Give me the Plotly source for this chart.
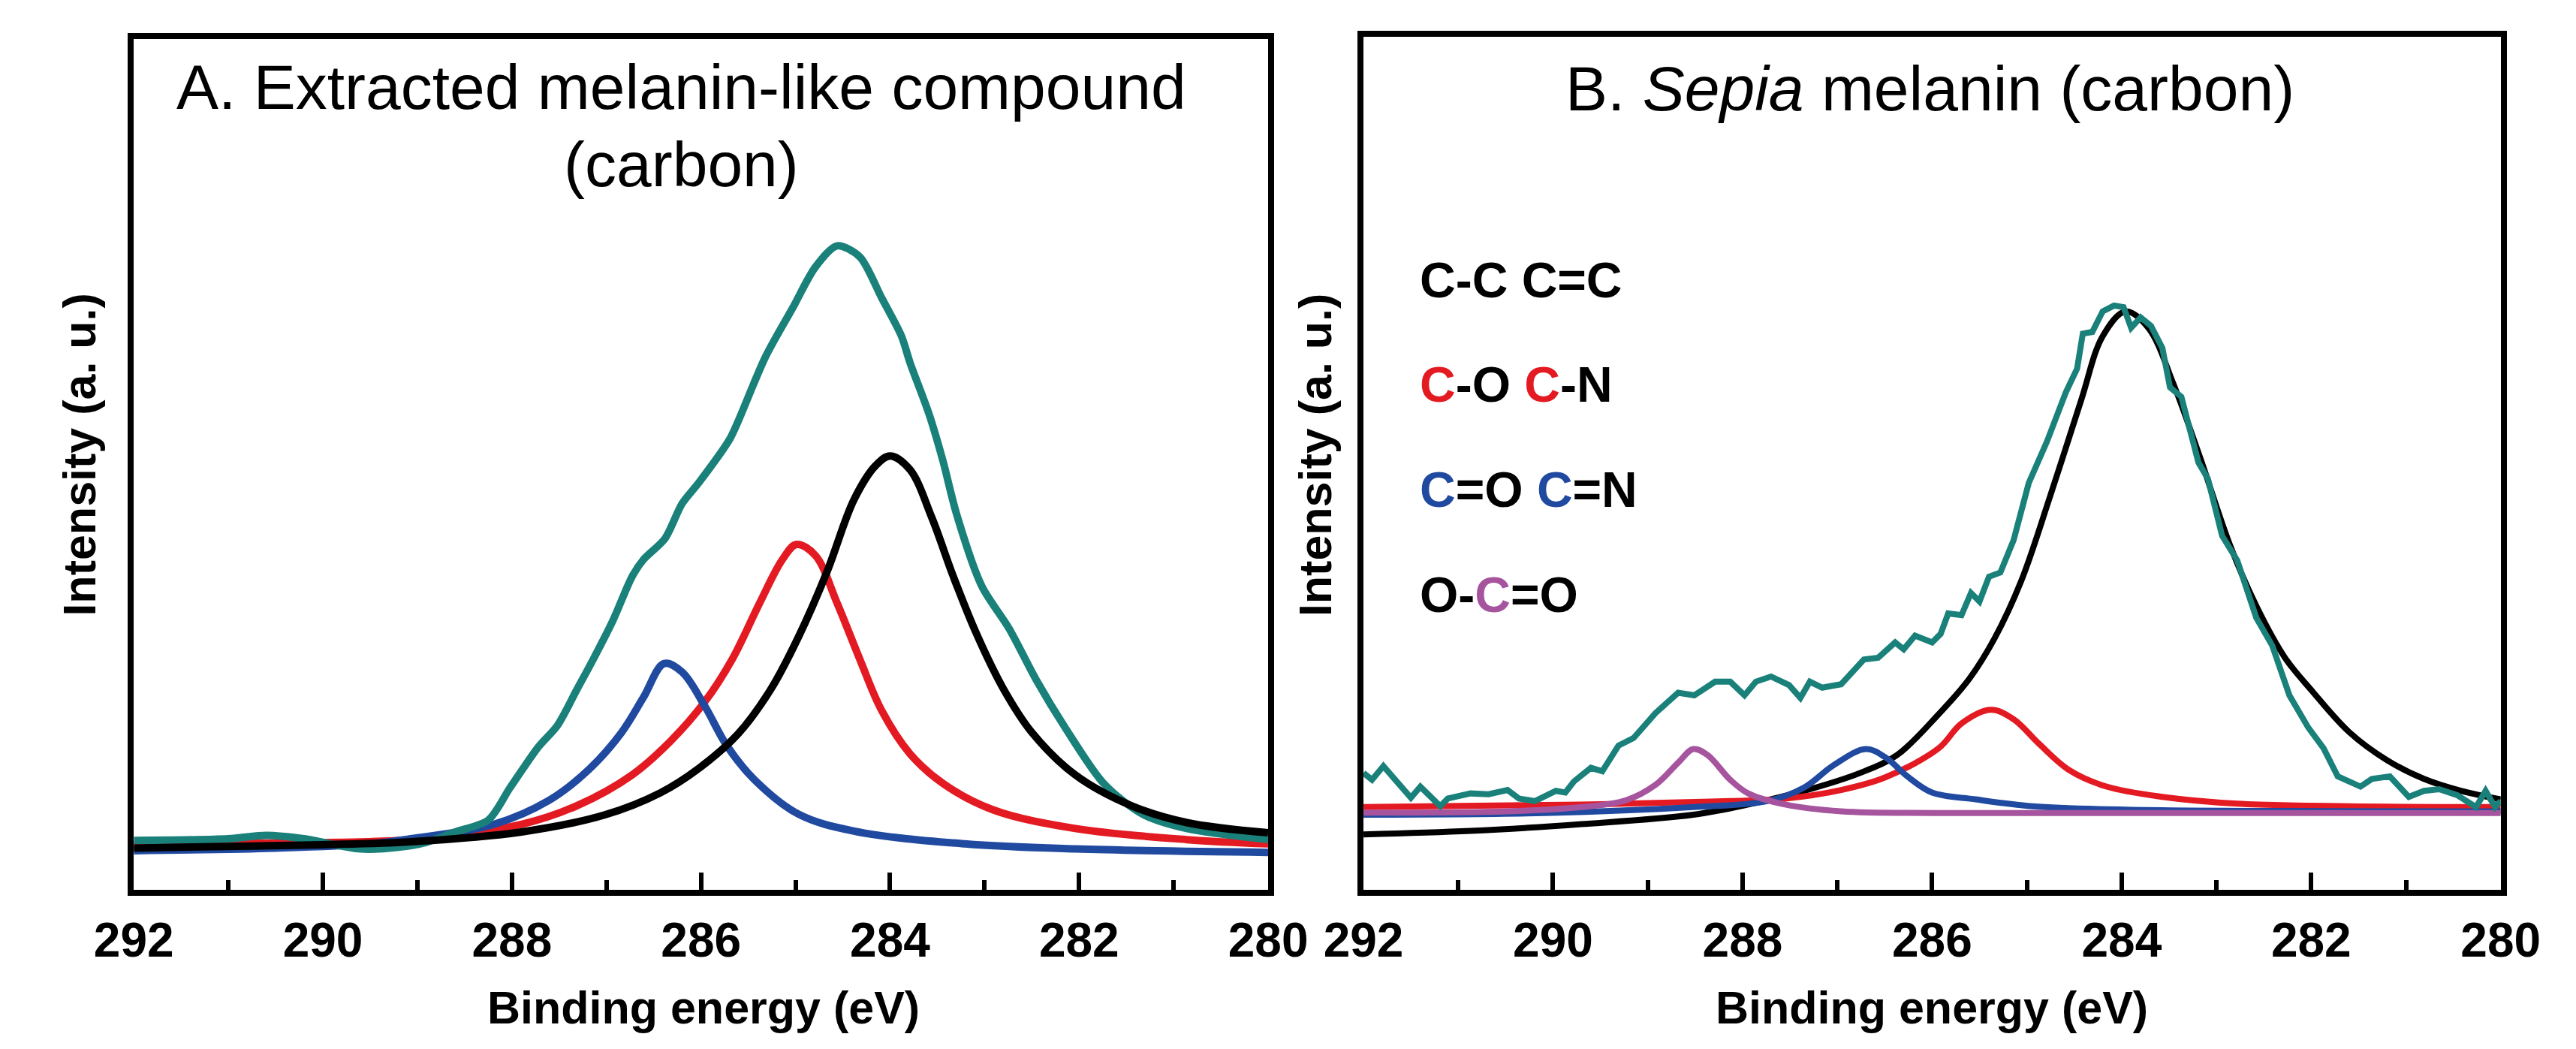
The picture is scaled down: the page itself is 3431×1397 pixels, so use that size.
import plotly.graph_objects as go

W, H = 3431, 1397

# ---- panel A: extracted melanin-like compound (energy in eV, intensity in % of frame height)
a_total_e = [292.0, 291.0, 290.6, 290.2, 289.6, 289.2, 288.9, 288.6, 288.25, 288.02, 287.72, 287.52,
             287.31, 287.14, 286.93, 286.73, 286.61, 286.38, 286.20, 286.02, 285.70, 285.61, 285.32,
             285.03, 284.79, 284.56, 284.32, 284.09, 283.88, 283.79, 283.59, 283.44, 283.30, 283.03,
             282.74, 282.45, 282.15, 281.74, 281.33, 280.86, 280.0]
a_total = [5.8, 6.0, 6.4, 6.0, 4.8, 5.0, 5.6, 6.8, 8.2, 12.0, 16.8, 19.3,
           23.6, 27.1, 31.7, 36.8, 38.8, 41.3, 45.4, 47.9, 52.9, 55.0, 62.6,
           68.4, 73.2, 75.7, 74.4, 69.6, 65.1, 62.0, 56.0, 50.4, 44.3, 35.7,
           30.7, 24.6, 19.1, 12.5, 8.9, 7.2, 5.9]

a_cc_e = [292.0, 291.0, 290.0, 289.07, 287.9, 287.02, 286.43, 286.02, 285.61, 285.26, 284.97, 284.67,
          284.38, 284.15, 284.0, 283.79, 283.56, 283.33, 283.09, 282.80, 282.50, 282.04, 281.45,
          280.86, 280.0]
a_cc = [4.9, 5.1, 5.3, 5.65, 6.8, 8.8, 11.4, 14.3, 18.3, 23.6, 29.7, 37.3,
        45.9, 49.9, 51.0, 49.4, 43.8, 36.8, 30.2, 23.6, 18.5, 13.5, 9.9,
        7.9, 6.7]

a_co_e = [292.0, 290.5, 289.07, 287.9, 287.31, 286.73, 286.32, 285.96, 285.67, 285.38, 285.14, 284.99,
          284.79, 284.56, 284.32, 284.09, 283.79, 283.44, 282.91, 282.04, 280.86, 280.0]
a_co = [5.3, 5.5, 5.9, 7.7, 9.9, 13.5, 17.5, 22.1, 27.1, 33.7, 38.8, 40.6,
        39.3, 33.7, 27.1, 21.1, 16.0, 12.5, 9.4, 7.2, 5.9, 5.4]

a_cdo_e = [292.0, 290.5, 289.5, 289.07, 288.19, 287.61, 287.20, 286.84, 286.61, 286.39, 286.20, 285.96,
           285.73, 285.44, 284.97, 284.38, 283.21, 282.04, 280.0]
a_cdo = [4.6, 4.9, 5.4, 6.0, 7.7, 10.5, 14.0, 18.5, 22.6, 26.6, 25.6, 21.6,
         17.0, 13.0, 8.9, 6.9, 5.4, 4.8, 4.4]

# ---- panel B: Sepia melanin
b_total_e = [292.0, 291.91, 291.79, 291.50, 291.40, 291.19, 291.11, 290.87, 290.68, 290.48, 290.36,
             290.19, 289.97, 289.87, 289.78, 289.60, 289.48, 289.31, 289.15, 288.92, 288.68, 288.51,
             288.29, 288.13, 287.98, 287.86, 287.70, 287.51, 287.39, 287.29, 287.16, 286.96, 286.72,
             286.57, 286.39, 286.30, 286.18, 286.00, 285.91, 285.83, 285.69, 285.59, 285.50, 285.40,
             285.28, 285.14, 284.98, 284.79, 284.59, 284.47, 284.41, 284.31, 284.20, 284.08, 283.98,
             283.90, 283.80, 283.69, 283.57, 283.49, 283.37, 283.19, 283.09, 282.94, 282.78, 282.58,
             282.41, 282.23, 282.03, 281.87, 281.72, 281.48, 281.36, 281.17, 280.97, 280.81, 280.65,
             280.46, 280.26, 280.16, 280.06, 280.0]
b_total = [13.7, 12.9, 14.5, 10.8, 12.1, 9.8, 10.7, 11.3, 11.2, 11.7, 10.7,
           10.4, 11.6, 11.4, 12.7, 14.3, 13.9, 16.9, 17.8, 20.7, 23.1, 22.8,
           24.4, 24.4, 22.8, 24.4, 25.0, 24.0, 22.5, 24.4, 23.7, 24.1, 27.0,
           27.2, 29.0, 28.2, 29.8, 29.0, 30.0, 32.4, 32.2, 34.8, 33.8, 36.7,
           37.2, 41.0, 47.7, 52.5, 58.3, 61.1, 65.2, 65.4, 67.8, 68.5, 68.3,
           65.9, 67.1, 66.1, 63.5, 58.9, 57.8, 50.1, 48.2, 41.5, 38.6, 31.9,
           28.6, 22.8, 19.0, 16.6, 13.3, 12.1, 13.0, 13.3, 10.9, 11.6, 11.8,
           11.1, 9.7, 11.6, 9.7, 10.4]

b_cc_e = [292.0, 290.87, 289.70, 288.52, 287.94, 287.35, 286.76, 286.37, 285.93, 285.61, 285.34,
          285.06, 284.75, 284.43, 284.20, 283.96, 283.72, 283.45, 283.17, 282.86, 282.58, 282.27,
          281.99, 281.60, 281.20, 280.81, 280.42, 280.0]
b_cc = [6.5, 6.9, 7.7, 8.8, 10.0, 11.6, 13.7, 15.8, 20.6, 24.7, 29.5,
        36.2, 46.3, 57.3, 64.9, 67.8, 65.9, 59.2, 50.6, 40.5, 33.3, 27.1,
        23.3, 18.5, 15.2, 13.0, 11.6, 10.6]

b_co_e = [292.0, 289.70, 288.13, 287.55, 286.96, 286.49, 285.93, 285.69, 285.38, 285.14, 284.87,
          284.55, 284.16, 283.57, 282.78, 281.60, 280.0]
b_co = [9.7, 10.0, 10.4, 10.7, 11.7, 13.2, 16.6, 19.5, 21.1, 20.0, 17.1,
        14.0, 12.1, 10.9, 10.1, 9.8, 9.7]

b_cdo_e = [292.0, 290.09, 288.52, 287.74, 287.35, 287.04, 286.70, 286.49, 286.25, 286.0, 285.54,
           284.94, 283.96, 280.0]
b_cdo = [8.8, 9.0, 9.7, 10.4, 12.0, 14.6, 16.5, 15.5, 13.2, 11.4, 10.6,
         9.8, 9.4, 9.2]

b_oco_e = [292.0, 290.48, 289.70, 289.23, 288.92, 288.68, 288.52, 288.37, 288.13, 287.94, 287.55,
           286.96, 285.91, 280.0]
b_oco = [9.05, 9.2, 9.7, 10.5, 12.3, 14.9, 16.5, 15.8, 12.9, 11.3, 10.0,
         9.2, 9.0, 9.0]

x_ticks = [292, 290, 288, 286, 284, 282, 280]

TEAL = "#1a807a"
RED = "#e41a22"
BLUE = "#2049a0"
PURPLE = "#a6549e"
BLACK = "#000000"


def px(x):
    return x / W


def py(y):
    return 1 - y / H


fig = go.Figure()

# panel A traces
fig.add_trace(go.Scatter(x=a_co_e, y=a_co, mode="lines", line=dict(color=RED, width=10, shape="spline"), xaxis="x", yaxis="y"))
fig.add_trace(go.Scatter(x=a_cdo_e, y=a_cdo, mode="lines", line=dict(color=BLUE, width=10, shape="spline"), xaxis="x", yaxis="y"))
fig.add_trace(go.Scatter(x=a_total_e, y=a_total, mode="lines", line=dict(color=TEAL, width=10, shape="spline", smoothing=0.8), xaxis="x", yaxis="y"))
fig.add_trace(go.Scatter(x=a_cc_e, y=a_cc, mode="lines", line=dict(color=BLACK, width=10, shape="spline"), xaxis="x", yaxis="y"))

# panel B traces
fig.add_trace(go.Scatter(x=b_cc_e, y=b_cc, mode="lines", line=dict(color=BLACK, width=8, shape="spline"), xaxis="x2", yaxis="y2"))
fig.add_trace(go.Scatter(x=b_co_e, y=b_co, mode="lines", line=dict(color=RED, width=8, shape="spline"), xaxis="x2", yaxis="y2"))
fig.add_trace(go.Scatter(x=b_cdo_e, y=b_cdo, mode="lines", line=dict(color=BLUE, width=8, shape="spline"), xaxis="x2", yaxis="y2"))
fig.add_trace(go.Scatter(x=b_oco_e, y=b_oco, mode="lines", line=dict(color=PURPLE, width=8, shape="spline"), xaxis="x2", yaxis="y2"))
fig.add_trace(go.Scatter(x=b_total_e, y=b_total, mode="lines", line=dict(color=TEAL, width=8), xaxis="x2", yaxis="y2"))

SANS = "Liberation Sans, Arial, sans-serif"
tick_font = dict(family=SANS, size=64, color="black", weight="bold")

xaxis_style = dict(
    range=[292, 280], tickvals=x_ticks, ticktext=[str(t) for t in x_ticks],
    ticks="inside", ticklen=23, tickwidth=6, tickcolor="black",
    minor=dict(dtick=1, tick0=280, ticks="inside", ticklen=13, tickwidth=6, tickcolor="black"),
    showline=True, linewidth=8, linecolor="black", mirror=True,
    showgrid=False, zeroline=False, tickfont=tick_font, ticklabelstandoff=4,
)
yaxis_style = dict(
    range=[0, 100], showticklabels=False, ticks="",
    showline=True, linewidth=8, linecolor="black", mirror=True,
    showgrid=False, zeroline=False,
)

fig.update_layout(
    width=W, height=H, showlegend=False,
    paper_bgcolor="white", plot_bgcolor="white",
    margin=dict(l=0, r=0, t=0, b=0),
    xaxis=dict(domain=[px(121), px(1680)], anchor="y", **xaxis_style),
    yaxis=dict(domain=[py(1177), py(44)], anchor="x", **yaxis_style),
    xaxis2=dict(domain=[px(1811), px(3374)], anchor="y2", **xaxis_style),
    yaxis2=dict(domain=[py(1177), py(41)], anchor="x2", **yaxis_style),
)

title_font = dict(family=SANS, size=84, color="black")
axis_font = dict(family=SANS, size=61, color="black", weight="bold")
legend_font = dict(family=SANS, size=66, color="black", weight="bold")

annotations = [
    dict(text="A. Extracted melanin-like compound", x=px(874), y=py(108), font=title_font),
    dict(text="(carbon)", x=px(874), y=py(211), font=title_font),
    dict(text="B. <i>Sepia</i> melanin (carbon)", x=px(2589), y=py(110), font=title_font),
    dict(text="Binding energy (eV)", x=px(904), y=py(1334), font=axis_font),
    dict(text="Binding energy (eV)", x=px(2592), y=py(1334), font=axis_font),
    dict(text="Intensity (a. u.)", x=px(46), y=py(598), font=axis_font, textangle=-90),
    dict(text="Intensity (a. u.)", x=px(1745), y=py(598), font=axis_font, textangle=-90),
]

legend_lines = [
    "C-C C=C",
    f'<span style="color:{RED}">C</span>-O <span style="color:{RED}">C</span>-N',
    f'<span style="color:{BLUE}">C</span>=O <span style="color:{BLUE}">C</span>=N',
    f'O-<span style="color:{PURPLE}">C</span>=O',
]
legend_mid = [365, 504, 644, 784]
for txt, ym in zip(legend_lines, legend_mid):
    annotations.append(dict(text=txt, x=px(1886), y=py(ym), xanchor="left", font=legend_font))

for a in annotations:
    a.setdefault("xanchor", "center")
    a.update(xref="paper", yref="paper", yanchor="middle", showarrow=False)

fig.update_layout(annotations=annotations)

fig.write_html("out.html")
